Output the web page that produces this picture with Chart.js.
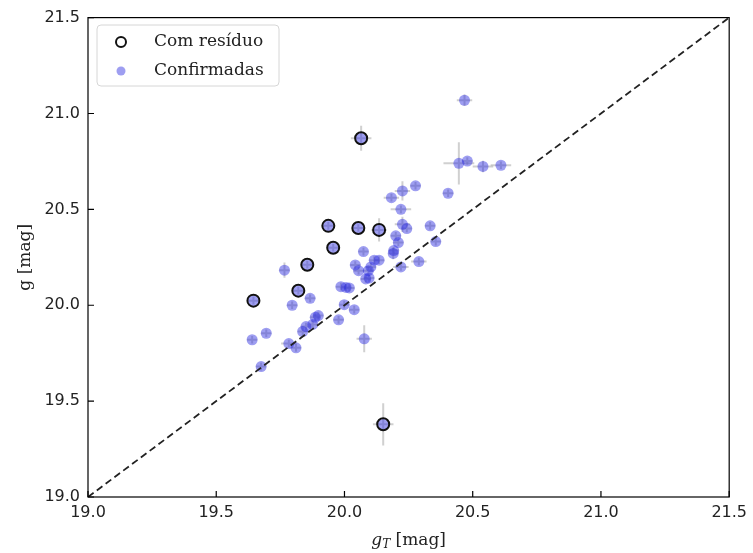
<!DOCTYPE html>
<html>
<head>
<meta charset="utf-8">
<title>g vs gT</title>
<script src="https://cdn.jsdelivr.net/npm/chart.js@4.4.0/dist/chart.umd.min.js"></script>
<style>
  html, body { margin: 0; padding: 0; background: #fff; }
  #wrap { width: 753px; height: 553px; }
</style>
</head>
<body>
<div id="wrap"><canvas id="chart" width="753" height="553"></canvas></div>
<script>
// --- data ---
const seriesLabels = ['Com resíduo', 'Confirmadas'];
const tickValues = [19.0, 19.5, 20.0, 20.5, 21.0, 21.5];

// points flagged with residual (drawn as open black circles)
const resX    = [19.645, 19.820, 19.855, 19.937, 19.956, 20.054, 20.135, 20.065, 20.151];
const resY    = [20.024, 20.076, 20.211, 20.414, 20.300, 20.403, 20.393, 20.871, 19.379];
const resXErr = [0.02, 0.02, 0.02, 0.02, 0.02, 0.02, 0.03, 0.04, 0.04];
const resYErr = [0.02, 0.02, 0.02, 0.02, 0.02, 0.02, 0.06, 0.065, 0.11];

// confirmed objects (residual ones are part of this set too)
const confX = [20.468, 20.446, 20.479, 20.540, 20.610, 20.404, 20.277, 20.226, 20.183, 20.220,
               20.226, 20.243, 20.334, 20.200, 20.210, 20.356, 20.074, 20.190, 20.135, 20.116,
               20.042, 20.103, 20.093, 20.055, 20.220, 20.290, 20.096, 20.083, 20.006, 19.986,
               19.766, 20.019, 19.866, 19.796, 19.999, 20.038, 19.898, 19.886, 19.977, 19.876,
               19.850, 19.837, 19.695, 19.640, 20.077, 19.783, 19.811, 19.675, 20.192];
const confY = [21.069, 20.740, 20.752, 20.724, 20.730, 20.584, 20.623, 20.596, 20.561, 20.500,
               20.422, 20.400, 20.414, 20.362, 20.327, 20.332, 20.280, 20.270, 20.235, 20.235,
               20.210, 20.200, 20.180, 20.180, 20.200, 20.228, 20.142, 20.137, 20.093, 20.097,
               20.183, 20.090, 20.036, 20.000, 20.003, 19.977, 19.946, 19.937, 19.924, 19.900,
               19.889, 19.863, 19.854, 19.820, 19.825, 19.800, 19.778, 19.680, 20.285];
const confXErr = [0.03, 0.06, 0.02, 0.04, 0.04, 0.02, 0.02, 0.03, 0.03, 0.04,
                  0.03, 0.02, 0.02, 0.02, 0.02, 0.02, 0.02, 0.02, 0.02, 0.02,
                  0.02, 0.02, 0.02, 0.02, 0.03, 0.03, 0.02, 0.02, 0.02, 0.02,
                  0.02, 0.02, 0.02, 0.02, 0.02, 0.02, 0.02, 0.02, 0.02, 0.02,
                  0.02, 0.02, 0.02, 0.02, 0.03, 0.03, 0.02, 0.02, 0.02];
const confYErr = [0.03, 0.11, 0.02, 0.03, 0.02, 0.02, 0.02, 0.05, 0.02, 0.02,
                  0.04, 0.02, 0.02, 0.02, 0.02, 0.02, 0.02, 0.03, 0.02, 0.02,
                  0.02, 0.02, 0.02, 0.02, 0.02, 0.02, 0.02, 0.02, 0.02, 0.02,
                  0.04, 0.02, 0.02, 0.02, 0.02, 0.02, 0.02, 0.02, 0.02, 0.02,
                  0.02, 0.02, 0.02, 0.02, 0.07, 0.02, 0.02, 0.02, 0.02];

const allConfX = confX.concat(resX);
const allConfY = confY.concat(resY);
const allConfXErr = confXErr.concat(resXErr);
const allConfYErr = confYErr.concat(resYErr);

const BLUE = 'rgba(40, 40, 225, 0.45)';
const TEXT = '#222';

const toPoints = (xs, ys) => xs.map((x, i) => ({ x, y: ys[i] }));

// light grey cross for each point, under the markers
const errorBars = {
  id: 'errorBars',
  beforeDatasetsDraw(chart) {
    const { ctx, scales: { x, y } } = chart;
    ctx.save();
    ctx.strokeStyle = 'rgba(170, 170, 170, 0.55)';
    ctx.lineWidth = 2;
    chart.data.datasets.forEach(ds => {
      if (!ds.errX) return;
      ds.data.forEach((p, i) => {
        const px = x.getPixelForValue(p.x), py = y.getPixelForValue(p.y);
        const x0 = x.getPixelForValue(p.x - ds.errX[i]), x1 = x.getPixelForValue(p.x + ds.errX[i]);
        const y0 = y.getPixelForValue(p.y - ds.errY[i]), y1 = y.getPixelForValue(p.y + ds.errY[i]);
        ctx.beginPath();
        ctx.moveTo(x0, py); ctx.lineTo(x1, py);
        ctx.moveTo(px, y0); ctx.lineTo(px, y1);
        ctx.stroke();
      });
    });
    ctx.restore();
  }
};

// box frame + inward ticks, matplotlib style
const frame = {
  id: 'frame',
  afterDatasetsDraw(chart) {
    const { ctx, chartArea: a, scales: { x, y } } = chart;
    ctx.save();
    ctx.strokeStyle = '#000';
    ctx.lineWidth = 1.2;
    ctx.strokeRect(a.left, a.top, a.right - a.left, a.bottom - a.top);
    ctx.beginPath();
    tickValues.forEach(v => {
      const px = x.getPixelForValue(v);
      ctx.moveTo(px, a.bottom); ctx.lineTo(px, a.bottom - 6);
      const py = y.getPixelForValue(v);
      ctx.moveTo(a.left, py); ctx.lineTo(a.left + 6, py);
    });
    ctx.stroke();
    ctx.restore();
  }
};

// legend box in upper-left and axis titles
const extras = {
  id: 'extras',
  afterDraw(chart) {
    const { ctx, chartArea: a } = chart;
    ctx.save();

    // legend
    const lx = 97, ly = 25, lw = 182, lh = 61;
    ctx.beginPath();
    ctx.roundRect(lx, ly, lw, lh, 4);
    ctx.fillStyle = 'rgba(255,255,255,0.8)';
    ctx.fill();
    ctx.strokeStyle = '#d6d6d6';
    ctx.lineWidth = 1;
    ctx.stroke();

    ctx.beginPath();
    ctx.arc(121, 42, 5, 0, Math.PI * 2);
    ctx.strokeStyle = '#111';
    ctx.lineWidth = 2;
    ctx.stroke();

    ctx.beginPath();
    ctx.arc(121, 71, 4.5, 0, Math.PI * 2);
    ctx.fillStyle = BLUE;
    ctx.fill();

    ctx.fillStyle = TEXT;
    ctx.font = '17px "DejaVu Serif"';
    ctx.textBaseline = 'middle';
    ctx.textAlign = 'left';
    ctx.fillText(seriesLabels[0], 154, 42);
    ctx.fillText(seriesLabels[1], 154, 71);

    // x title: g_T [mag]
    const cx = (a.left + a.right) / 2;
    const base = 545;
    ctx.textBaseline = 'alphabetic';
    ctx.font = 'italic 17px "DejaVu Serif"';
    const wg = ctx.measureText('g').width;
    ctx.font = 'italic 12px "DejaVu Serif"';
    const wt = ctx.measureText('T').width;
    ctx.font = '17px "DejaVu Serif"';
    const wm = ctx.measureText(' [mag]').width;
    let sx = cx - (wg + wt + wm) / 2;
    ctx.font = 'italic 17px "DejaVu Serif"';
    ctx.fillText('g', sx, base);
    sx += wg;
    ctx.font = 'italic 12px "DejaVu Serif"';
    ctx.fillText('T', sx, base + 3);
    sx += wt;
    ctx.font = '17px "DejaVu Serif"';
    ctx.fillText(' [mag]', sx, base);

    // y title
    ctx.translate(26, (a.top + a.bottom) / 2);
    ctx.rotate(-Math.PI / 2);
    ctx.textAlign = 'center';
    ctx.textBaseline = 'middle';
    ctx.fillText('g [mag]', 0, 0);

    ctx.restore();
  }
};

const tickFont = { family: '"DejaVu Sans"', size: 16 };

new Chart(document.getElementById('chart'), {
  type: 'scatter',
  data: {
    datasets: [
      {
        type: 'line',
        label: 'y = x',
        data: [{ x: tickValues[0], y: tickValues[0] }, { x: tickValues[5], y: tickValues[5] }],
        borderColor: '#222',
        borderWidth: 1.8,
        borderDash: [7, 4],
        pointRadius: 0,
        fill: false
      },
      {
        label: seriesLabels[0],
        data: toPoints(resX, resY),
        pointRadius: 6,
        backgroundColor: 'rgba(0,0,0,0)',
        borderColor: '#111',
        borderWidth: 2
      },
      {
        label: seriesLabels[1],
        data: toPoints(allConfX, allConfY),
        errX: allConfXErr,
        errY: allConfYErr,
        pointRadius: 5.5,
        backgroundColor: BLUE,
        borderWidth: 0
      }
    ]
  },
  options: {
    responsive: false,
    animation: false,
    layout: { padding: { left: 0, top: 16, right: 22, bottom: 0 } },
    plugins: { legend: { display: false }, tooltip: { enabled: false } },
    scales: {
      x: {
        type: 'linear',
        min: 19, max: 21.5,
        afterBuildTicks: s => { s.ticks = tickValues.map(v => ({ value: v })); },
        afterFit: s => { s.height = 56; },
        ticks: { font: tickFont, color: TEXT, padding: 6, maxRotation: 0, autoSkip: false,
                 callback: v => Number(v).toFixed(1) },
        grid: { display: false, drawTicks: false },
        border: { display: false }
      },
      y: {
        type: 'linear',
        min: 19, max: 21.5,
        afterBuildTicks: s => { s.ticks = tickValues.map(v => ({ value: v })); },
        afterFit: s => { s.width = 88; },
        ticks: { font: tickFont, color: TEXT, padding: 8, autoSkip: false,
                 callback: v => Number(v).toFixed(1) },
        grid: { display: false, drawTicks: false },
        border: { display: false }
      }
    }
  },
  plugins: [errorBars, frame, extras]
});
</script>
</body>
</html>
